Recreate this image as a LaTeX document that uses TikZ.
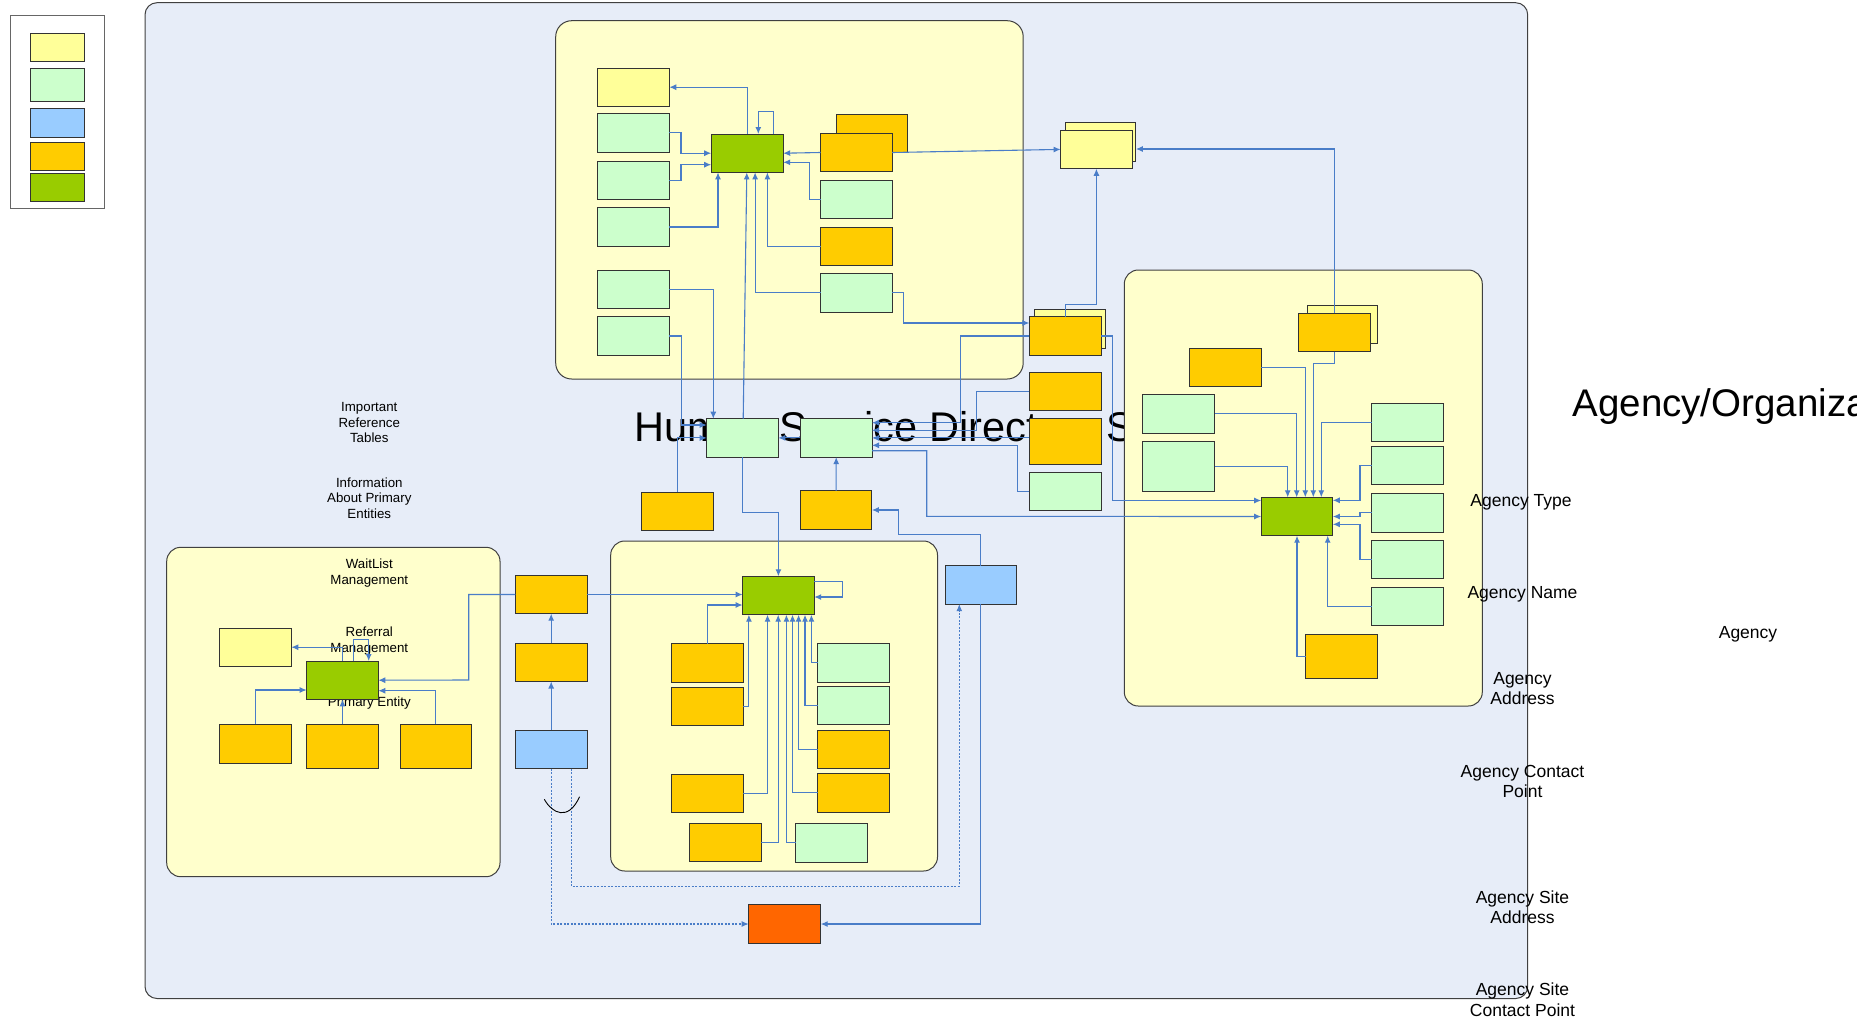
\documentclass[tikz,border=0pt]{standalone}
\usepackage{fontspec}
\setmainfont{Liberation Sans}
\usetikzlibrary{arrows.meta}
\definecolor{cBg}{RGB}{231,237,248}
\definecolor{cPanel}{RGB}{255,255,204}
\definecolor{cYel}{RGB}{255,255,153}
\definecolor{cGrn}{RGB}{204,255,204}
\definecolor{cBlu}{RGB}{153,204,255}
\definecolor{cOrg}{RGB}{255,204,0}
\definecolor{cLim}{RGB}{153,204,0}
\definecolor{cRed}{RGB}{255,102,0}
\definecolor{cLink}{RGB}{74,125,200}
\begin{document}
\begin{tikzpicture}[x=1pt,y=-1pt,
    box/.style={draw=black!80, line width=1pt, minimum width=71.6pt, minimum height=38.4pt, inner sep=0pt, outer sep=0pt},
    yel/.style={box, fill=cYel}, grn/.style={box, fill=cGrn}, blu/.style={box, fill=cBlu},
    org/.style={box, fill=cOrg}, lim/.style={box, fill=cLim}, hub/.style={box, fill=cRed},
    panel/.style={draw=black!75, line width=1pt, fill=cPanel, rounded corners=14pt},
    link/.style={draw=cLink, line width=1.1pt, -{Latex[length=7pt,width=6pt]}},
    dlink/.style={link, dash pattern=on 2pt off 1.5pt},
    lbl/.style={font=\fontsize{13.3}{15.5}\selectfont, align=center, inner sep=0pt},
    albl/.style={font=\fontsize{17.5}{20.3}\selectfont, align=center, inner sep=0pt}]
    \useasboundingbox (0,0) rectangle (1857,1021);

    % Draw background and title
    \draw[draw=black!75, line width=1pt, fill=cBg, rounded corners=12pt] (145,2.7) rectangle (1527.7,998.5);
    \node[anchor=base west, font=\fontsize{41.5}{48}\selectfont, inner sep=0pt] (ttl) at (634,441.7) {Human Service Directory Services};
    \node[anchor=base west, font=\fontsize{38.5}{45}\selectfont, inner sep=0pt] (org) at (1572.3,416.7) {Agency/Organization};

    % Draw panels
    \draw[panel, rounded corners=16pt] (555.7,20.7) rectangle (1023.2,379);
    \draw[panel] (1124.3,270) rectangle (1482.3,706);
    \draw[panel] (166.7,547.3) rectangle (500,876.7);
    \draw[panel] (610.7,541) rectangle (937.5,871);

    % Draw legend
    \draw[draw=black!60, line width=1pt, fill=white] (10.7,15) rectangle (104.8,208);
    \foreach \i/\c/\y/\h in {1/cYel/47.35/28.7, 2/cGrn/85/32.6, 3/cBlu/122.65/28.7, 4/cOrg/156.3/28, 5/cLim/187.35/28.7} {
        \node[box, fill=\c, minimum width=53.8pt, minimum height=\h pt] (lg\i) at (57.3,\y) {};
    }

    % Draw labels
    \node[lbl] (imp) at (369.3,422.5) {Important\\Reference\\Tables};
    \node[lbl] (inf) at (369.3,498) {Information\\About Primary\\Entities};
    \node[lbl] (wait) at (369.3,573) {WaitList\\Management};
    \node[lbl] (refm) at (369.3,641) {Referral\\Management};
    \node[lbl] (pent) at (369.3,703.3) {Primary Entity};
    \node[albl] (atype) at (1521,502) {Agency Type};
    \node[albl] (aname) at (1522.5,594) {Agency Name};
    \node[albl] (aaddr) at (1522.5,688.7) {Agency\\Address};
    \node[albl] (acont) at (1522.5,781.5) {Agency Contact\\Point};
    \node[albl] (asadr) at (1522.5,907) {Agency Site\\Address};
    \node[albl] (ascon) at (1522.5,999.6) {Agency Site\\Contact Point};
    \node[albl] (agcy) at (1748,634) {Agency};

    % Draw top panel boxes
    \node[yel] (t1) at (633.5,87.2) {};
    \node[grn] (r1) at (633.5,132.8) {};
    \node[grn] (r2) at (633.5,180.2) {};
    \node[grn] (r3) at (633.5,227) {};
    \node[grn] (r4) at (633.5,289.2) {};
    \node[grn] (r5) at (633.5,336) {};
    \node[lim, minimum width=72pt] (pA) at (747.2,153.2) {};
    \node[org] (o1b) at (872,133.5) {};
    \node[org] (o1f) at (856.3,152.5) {};
    \node[grn] (r6) at (856.3,199.5) {};
    \node[org] (o1) at (856.3,246.2) {};
    \node[grn] (r7) at (856.3,292.8) {};
    \node[yel, minimum width=70pt, minimum height=38.7pt] (t3b) at (1100.9,141.7) {};
    \node[yel, minimum height=38.7pt] (t3f) at (1096.4,149.4) {};

    % Draw middle boxes
    \node[yel, minimum width=70.7pt, minimum height=39.3pt] (o2b) at (1069.7,328.7) {};
    \node[org] (o2f) at (1065.2,336) {};
    \node[org, minimum height=38pt] (o2) at (1065.2,391.3) {};
    \node[org, minimum height=46.4pt] (o3) at (1065.2,441.5) {};
    \node[grn] (r8) at (1065.2,491.5) {};
    \node[grn] (rA) at (742.5,437.9) {};
    \node[grn] (rB) at (836.2,437.9) {};
    \node[org] (oC) at (677.4,511.5) {};
    \node[org] (oD) at (836.1,510) {};

    % Draw right panel boxes
    \node[yel, minimum width=70.3pt] (o4b) at (1342.2,324.2) {};
    \node[org] (o4f) at (1334.5,332.5) {};
    \node[org, minimum width=72pt] (o4) at (1225.3,367.2) {};
    \node[grn] (r9) at (1178.7,413.9) {};
    \node[grn, minimum height=50pt] (r10) at (1178.7,466.3) {};
    \node[lim] (pC) at (1297,516.5) {};
    \node[grn] (r11) at (1407.5,422.5) {};
    \node[grn, minimum height=37.6pt] (r12) at (1407.5,465.5) {};
    \node[grn] (r13) at (1407.5,512.9) {};
    \node[grn, minimum height=38pt] (r14) at (1407.5,559.7) {};
    \node[grn, minimum height=38pt] (r15) at (1407.5,606.3) {};
    \node[org, minimum height=44pt] (o5) at (1341.5,656.3) {};

    % Draw left panel boxes
    \node[yel, minimum width=72pt] (t2) at (255.3,647.2) {};
    \node[lim] (pD) at (342.5,680.2) {};
    \node[org, minimum width=72pt, minimum height=38.7pt] (o6) at (255.3,743.7) {};
    \node[org, minimum height=44pt] (o7) at (342.5,746.3) {};
    \node[org, minimum height=44pt] (o8) at (435.9,746.3) {};
    \node[org] (oF) at (551.2,594.5) {};
    \node[org] (oG) at (551.2,662.3) {};
    \node[blu] (bH) at (551.2,749.4) {};

    % Draw bottom panel boxes
    \node[lim] (pB) at (778.4,595.5) {};
    \node[org] (o9) at (707.2,662.8) {};
    \node[org] (o10) at (707.2,706.2) {};
    \node[org] (o11) at (707.2,793.5) {};
    \node[org, minimum width=72pt] (o12) at (725.4,842.5) {};
    \node[grn] (r16) at (853.4,662.8) {};
    \node[grn] (r17) at (853.4,705.5) {};
    \node[org] (o13) at (853.4,749.5) {};
    \node[org] (o14) at (853.4,792.9) {};
    \node[grn, minimum width=72pt, minimum height=39pt] (r18) at (831.5,842.8) {};
    \node[blu] (bJ) at (980.9,584.9) {};
    \node[hub, minimum width=72pt] (hK) at (784.7,924) {};

    % Top panel links
    \draw[link] (pA.north) |- (t1.east);
    \draw[link] (pA.north -| 773.7,0) -- (773.7,111.7) -| (pA.north -| 758.3,0);
    \draw[link] (r1.east) -- ++(11.7,0) |- (pA.west);
    \draw[link] (r2.east) -- ++(11.7,0) |- (pA.west |- 0,164.7);
    \draw[link] (r3.east) -| (pA.south -| 718,0);
    \draw[link] (o1.west) -| (pA.south -| 767.4,0);
    \draw[link] (r7.west) -| (pA.south -| 755.1,0);
    \draw[link] (rA.north -| 743.2,0) -- (pA.south -| 746.8,0);
    \draw[link] (o1f.west) -- (pA.east);
    \draw[link] (r6.west) -- ++(-11.4,0) |- (pA.east |- 0,162.3);
    \draw[link] (o1f.east) -- (t3f.west);
    \draw[link] (o4f.north) |- (t3b.east |- 0,149);
    \draw[link] (o2f.north) -- ++(0,-12) -| (t3f.south);
    \draw[link] (r7.east) -- ++(11.5,0) |- (o2f.west |- 0,323);
    \draw[link] (r4.east) -| (rA.north -| 713.3,0);
    \draw[link] (r5.east) -- ++(11.9,0) |- (rA.west |- 0,425);

    % Middle links
    \draw[link] (oC.north) |- (rA.west);
    \draw[link] (rB.west) -- (rA.east);
    \draw[link] (o2f.west) -- (o2f.west -| 960.7,0) |- (rB.east |- 0,422.7);
    \draw[link] (o2.west) -- (o2.west -| 976.3,0) |- (rB.east |- 0,430.3);
    \draw[link] (o3.west |- rB.east) -- (rB.east);
    \draw[link] (r8.west) -- (r8.west -| 1017.7,0) |- (rB.east |- 0,445.3);
    \draw[link] (rB.east |- 0,450.7) -| (926.7,516.3) -- (pC.west);
    \draw[link] (o2f.east) -- ++(11.5,0) |- (pC.west |- 0,500.5);
    \draw[link] (oD.north) -- (rB.south);
    \draw[link] (bJ.north) -- (bJ.north |- 0,534.3) -| (898.6,510) -- (oD.east);
    \draw[link] (rA.south) |- (pB.north |- 0,512.7) -- (pB.north);

    % Right panel links
    \draw[link] (r10.east) -| (pC.north -| 1287.7,0);
    \draw[link] (r9.east) -| (pC.north -| 1296.7,0);
    \draw[link] (o4.east) -| (pC.north -| 1305.3,0);
    \draw[link] (o4f.south) -- ++(0,11.6) -| (pC.north -| 1313.3,0);
    \draw[link] (r11.west) -| (pC.north -| 1321.3,0);
    \draw[link] (r12.west) -- (r12.west -| 1360,0) |- (pC.east |- 0,500.3);
    \draw[link] (r13.west) -- (r13.west -| 1360,0) |- (pC.east);
    \draw[link] (r14.west) -- (r14.west -| 1360,0) |- (pC.east |- 0,524.3);
    \draw[link] (r15.west) -| (pC.south -| 1327.7,0);
    \draw[link] (o5.west) -| (pC.south);

    % Bottom panel links
    \draw[link] (oF.east) -- (pB.west |- oF.east);
    \draw[link] (oG.north) -- (oF.south);
    \draw[link] (bH.north) -- (oG.south);
    \draw[link] (o9.north) |- (pB.west |- 0,605);
    \draw[link] (o10.east) -| (pB.south -| 748.9,0);
    \draw[link] (o11.east) -| (pB.south -| 767.5,0);
    \draw[link] (o12.east) -| (pB.south -| 778.2,0);
    \draw[link] (r18.west) -| (pB.south -| 786.4,0);
    \draw[link] (o14.west) -| (pB.south -| 792.5,0);
    \draw[link] (o13.west) -| (pB.south -| 798.6,0);
    \draw[link] (r17.west) -| (pB.south -| 805,0);
    \draw[link] (r16.west) -| (pB.south -| 811.4,0);
    \draw[link] (pB.east |- 0,581.3) -| (842.1,597) -- (pB.east |- 0,597);
    \draw[link] (bJ.south) |- (hK.east);
    \draw[dlink] (bH.south) |- (hK.west);
    \draw[dlink] (bH.south -| 571.4,0) -- (571.4,886.3) -| (bJ.south -| 959.3,0);

    % Left panel links
    \draw[link] (pD.north) |- (t2.east);
    \draw[link] (pD.north -| 353.3,0) -- (353.3,639.7) -| (pD.north -| 368.7,0);
    \draw[link] (oF.west) -| (468.7,680) -- (pD.east);
    \draw[link] (o8.north) |- (pD.east |- 0,690.7);
    \draw[link] (o6.north) |- (pD.west |- 0,690);
    \draw[link] (o7.north) -- (pD.south);

    % Draw jump arc
    \draw[black, line width=0.9pt] (544.3,799.3) .. controls (552,813) and (568,822) .. (579.6,796.7);
\end{tikzpicture}
\end{document}
